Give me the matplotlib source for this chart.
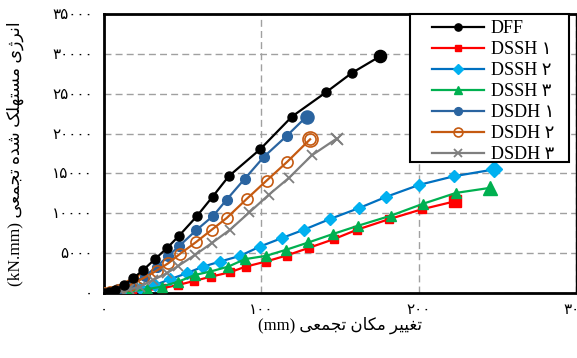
import numpy as np
import matplotlib
matplotlib.use('Agg')
import matplotlib.pyplot as plt
from matplotlib.patches import Rectangle

plt.rcParams['font.family'] = ['Liberation Serif', 'DejaVu Sans']

# cumulative displacement (mm) / cumulative dissipated energy (kN.mm)
dff_x = [0, 3, 7, 13, 18.6, 25, 32.4, 40, 47.7, 58.9, 69.1, 79.3, 99.2, 119.5, 141, 157.5, 175.5]
dff_y = [0, 120, 380, 1000, 1850, 2900, 4250, 5630, 7180, 9610, 12100, 14650, 18020, 22140, 25160, 27600, 29700]

dssh1_x = [0, 6, 12, 18, 27, 37, 47, 57, 68, 80, 90, 103, 116, 130, 146, 161, 181, 202, 223]
dssh1_y = [0, 30, 90, 170, 330, 600, 1000, 1500, 2050, 2600, 3300, 3950, 4700, 5650, 6750, 7950, 9250, 10500, 11500]

dssh2_x = [0, 7, 14, 23, 32.4, 42, 52.6, 63, 73.7, 86.5, 99.2, 113, 127.1, 143.7, 162.3, 179.3, 200.4, 222.5, 247.9]
dssh2_y = [0, 80, 250, 590, 1000, 1730, 2480, 3310, 3940, 4660, 5830, 6890, 7940, 9290, 10670, 12060, 13570, 14650, 15500]

dssh3_x = [0, 8, 16.5, 27.1, 36.7, 47.2, 57.9, 67.4, 79, 89.6, 103, 115.7, 129.9, 145.8, 161.7, 182.3, 203, 223.8, 245.4]
dssh3_y = [0, 60, 170, 470, 800, 1420, 2270, 2680, 3310, 4250, 4660, 5420, 6340, 7420, 8450, 9700, 11210, 12560, 13190]

dsdh1_x = [0, 4, 9, 17.6, 26.1, 33.5, 40.9, 47.9, 58.5, 69.5, 78, 89.6, 101.7, 116.1, 128.8]
dsdh1_y = [0, 150, 450, 1220, 2140, 3310, 4660, 5920, 7850, 9700, 11720, 14360, 17100, 19700, 22140]

dsdh2_x = [0, 4, 9, 16.5, 25, 33.5, 40.9, 48.3, 58.5, 68.5, 78, 90.7, 103.4, 116.5, 131]
dsdh2_y = [0, 120, 380, 1000, 1850, 2810, 3740, 4910, 6390, 7940, 9410, 11800, 14110, 16470, 19280]

dsdh3_x = [0, 5, 11, 16, 22.9, 31.3, 39.9, 47.2, 57.9, 68.5, 80.1, 92.4, 104.9, 117.6, 132, 147.9]
dsdh3_y = [0, 60, 200, 450, 800, 1640, 2480, 3400, 4790, 6260, 7940, 10120, 12350, 14450, 17260, 19370]

labels = ['DFF', 'DSSH ۱', 'DSSH ۲', 'DSSH ۳', 'DSDH ۱', 'DSDH ۲', 'DSDH ۳']
x_ticks = [0, 100, 200, 300]
y_ticks = [0, 5000, 10000, 15000, 20000, 25000, 30000, 35000]

fa_digits = str.maketrans('0123456789', '۰۱۲۳۴۵۶۷۸۹')

# Persian words in presentation forms, reversed to visual order
w_taghyir = '\ufe97\ufed0\ufbff\ufbff\ufeae'[::-1]
w_makan = '\ufee3\ufb91\ufe8e\ufee5'[::-1]
w_tajmoi = '\ufe97\ufea0\ufee4\ufecc\ufbfd'[::-1]
w_energy = '\ufe8d\ufee7\ufeae\ufb8a\ufbfc'[::-1]
w_mostahlak = '\ufee3\ufeb4\ufe98\ufeec\ufee0\ufb8f'[::-1]
w_shode = '\ufeb7\ufeaa\ufee9'[::-1]

xlabel = '(mm) ' + w_tajmoi + ' ' + w_makan + ' ' + w_taghyir
ylabel = '(kN.mm) ' + w_tajmoi + ' ' + w_shode + ' ' + w_mostahlak + ' ' + w_energy

fig = plt.figure(figsize=(5.77, 3.58), dpi=100)
ax = fig.add_axes([104 / 577, 1 - 293 / 358, 472 / 577, 279 / 358])

lw = 1.6
series = [
    (dff_x, dff_y, dict(color='black', marker='o', ms=6.5)),
    (dssh1_x, dssh1_y, dict(color='#FF0000', marker='s', ms=6)),
    (dssh2_x, dssh2_y, dict(color='#0070C0', marker='D', ms=6, mfc='#00B0F0', mec='#00B0F0')),
    (dssh3_x, dssh3_y, dict(color='#00B050', marker='^', ms=7.5)),
    (dsdh1_x, dsdh1_y, dict(color='#2A64A0', marker='o', ms=7)),
    (dsdh2_x, dsdh2_y, dict(color='#C55A11', marker='o', ms=8, mfc='none', mew=1.2)),
    (dsdh3_x, dsdh3_y, dict(color='#7F7F7F', marker='x', ms=6.5, mew=1.3)),
]
for i, (xs, ys, style) in enumerate(series):
    ax.plot(xs, ys, lw=lw, label=labels[i], zorder=4 if i == 0 else 3, **style)
    # end points are drawn a little larger
    end = dict(style)
    end['ms'] = style['ms'] * 1.35
    ax.plot(xs[-1:], ys[-1:], lw=0, zorder=4 if i == 0 else 3, **end)

ax.set_xlim(0, 300)
ax.set_ylim(0, 35000)
ax.set_xticks(x_ticks)
ax.set_yticks(y_ticks)
ax.set_xticklabels([str(t).translate(fa_digits) for t in x_ticks], fontsize=11)
ax.set_yticklabels([str(t).translate(fa_digits) for t in y_ticks], fontsize=11)
ax.tick_params(length=0, pad=8)

ax.grid(True, color='#A0A0A0', linestyle=(0, (5, 3)), linewidth=1.0)
ax.set_axisbelow(True)

for side in ['left', 'bottom', 'top']:
    ax.spines[side].set_linewidth(2.0)
ax.spines['right'].set_linewidth(1.0)

ax.set_xlabel(xlabel, fontsize=12, labelpad=0)
ax.set_ylabel(ylabel, fontsize=12.5, labelpad=20)

# legend box (wider than its content, as in the original)
ax.add_patch(Rectangle((410 / 577, 1 - 162 / 358), 159 / 577, 148 / 358,
                       transform=fig.transFigure, facecolor='white', edgecolor='black',
                       linewidth=1.5, zorder=4.8, clip_on=False))
leg = ax.legend(loc='upper left', bbox_to_anchor=(426 / 577, 1 - 14 / 358),
                bbox_transform=fig.transFigure, frameon=False,
                fontsize=13, handlelength=2.85, labelspacing=0.22,
                borderpad=0.35, handletextpad=0.4, borderaxespad=0, markerscale=0.8)
leg.set_zorder(5)

fig.savefig('out.png', dpi=100)
